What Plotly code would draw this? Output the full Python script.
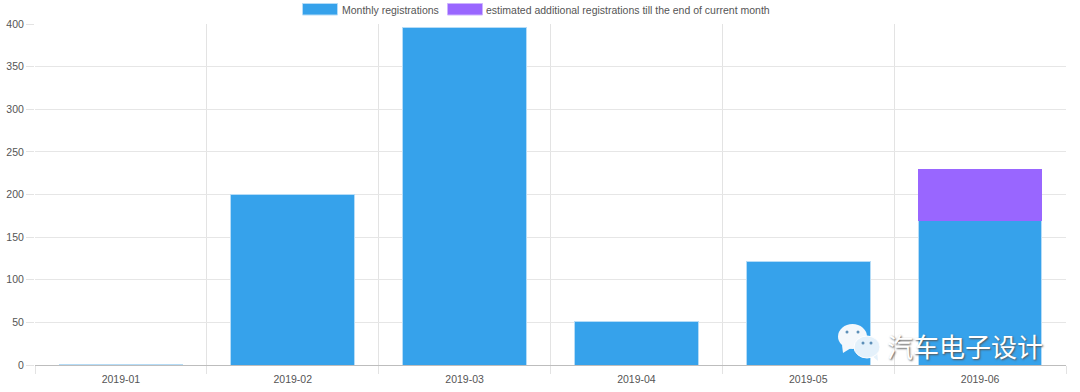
import plotly.graph_objects as go

months = ["2019-01", "2019-02", "2019-03", "2019-04", "2019-05", "2019-06"]
monthly = [1, 200, 396, 51, 122, 169]
estimated = [0, 0, 0, 0, 0, 61]
series_names = ["Monthly registrations", "estimated additional registrations till the end of current month"]
blue = "#36A2EB"
purple = "#9966FF"
W, H = 1080, 392
L, R, T, B = 35, 14, 24, 27
FONT = "Liberation Sans, Arial, sans-serif"
TEXT = "#555555"
FS = 10.5

fig = go.Figure()
fig.add_bar(x=months, y=monthly, name=series_names[0], marker=dict(color=blue, line=dict(color="#b5dcf7", width=1)))
fig.add_bar(x=months, y=estimated, name=series_names[1], marker=dict(color=purple, line=dict(width=0)))

shapes = []
annotations = []


def X(x):
    return (x - L) / (W - L - R)


def Y(y):
    return (H - B - y) / (H - T - B)


def rect(x0, y0, x1, y1, fill, line="rgba(0,0,0,0)"):
    shapes.append(dict(type="rect", xref="paper", yref="paper", x0=X(x0), x1=X(x1), y0=Y(y0), y1=Y(y1),
                       fillcolor=fill, line=dict(color=line, width=1), layer="above"))


def oval(x0, y0, x1, y1, fill, line="rgba(0,0,0,0)"):
    shapes.append(dict(type="circle", xref="paper", yref="paper", x0=X(x0), x1=X(x1), y0=Y(y0), y1=Y(y1),
                       fillcolor=fill, line=dict(color=line, width=1), layer="above"))


def tail(pts, fill):
    path = "M" + " L".join(f"{X(a):.5f},{Y(b):.5f}" for a, b in pts) + " Z"
    shapes.append(dict(type="path", xref="paper", yref="paper", path=path, fillcolor=fill,
                       line=dict(width=0), layer="above"))


def label(x, y, text, size=FS, color=TEXT, font=FONT):
    annotations.append(dict(text=text, xref="paper", yref="paper", x=X(x), y=Y(y), xanchor="left", yanchor="middle",
                            showarrow=False, font=dict(size=size, color=color, family=font), borderpad=0))


# legend drawn to match the wide swatches of the reference
rect(302.5, 3.5, 337.5, 15, blue, "#b5dcf7")
label(341, 9.5, series_names[0])
rect(447.5, 3.5, 482.5, 15, purple, "#cdb3ff")
label(485, 9.5, series_names[1])

# watermark
tail([(842, 345), (843, 353), (851, 348)], "#f4f8fc")
oval(838, 324, 867, 349, "#f4f8fc")
tail([(870, 354), (878, 361), (877, 351)], "#e4f1fb")
oval(854, 336, 880, 358, "#e4f1fb", "#ffffff")
for cx, cy in [(847, 332), (858, 332), (863, 343), (871, 343)]:
    oval(cx - 1.5, cy - 1.5, cx + 1.5, cy + 1.5, "#5d8fb8")
label(886, 345, "汽车电子设计", size=26, color="#ffffff", font="Noto Sans CJK SC")
annotations[-1]["font"]["shadow"] = "1px 1px 2px #555555"

fig.update_layout(
    width=W, height=H, barmode="stack", bargap=0.28, showlegend=False,
    margin=dict(l=L, r=R, t=T, b=B, pad=0, autoexpand=False), plot_bgcolor="white", paper_bgcolor="white",
    font=dict(family=FONT, size=FS, color=TEXT),
    shapes=shapes, annotations=annotations,
    xaxis=dict(type="category", automargin=False, tickson="boundaries", ticks="outside", ticklen=8, tickcolor="#e3e3e3",
               showgrid=True, gridcolor="#e3e3e3", gridwidth=1, showline=False, ticklabelstandoff=6,
               tickfont=dict(size=FS, color=TEXT)),
    yaxis=dict(range=[0, 400], automargin=False, tick0=0, dtick=50, ticks="outside", ticklen=8, tickcolor="#e3e3e3", showgrid=True,
               gridcolor="#e6e6e6", gridwidth=1, zeroline=True, zerolinecolor="#bdbdbd", zerolinewidth=1,
               showline=False, tickfont=dict(size=FS, color=TEXT)),
)
fig.write_html("out.html", post_script="document.body.style.margin='0';", config=dict(displayModeBar=False))
